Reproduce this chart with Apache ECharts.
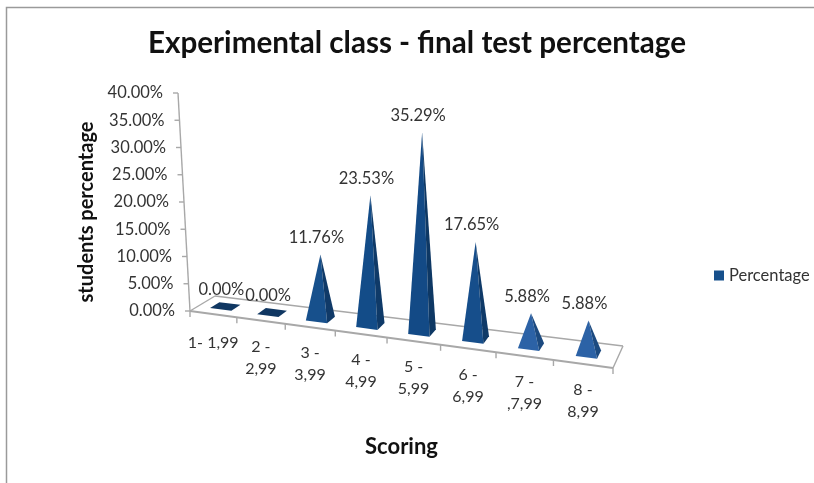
<!DOCTYPE html>
<html><head><meta charset="utf-8">
<style>html,body{margin:0;padding:0;background:#fff}#c{width:814px;height:483px}</style>
<script src="https://cdn.jsdelivr.net/npm/echarts@6/dist/echarts.min.js"></script>
</head><body><div id="c"></div>
<script>
const categories = ['1- 1,99','2 -\n2,99','3 -\n3,99','4 -\n4,99','5 -\n5,99','6 -\n6,99','7 -\n,7,99','8 -\n8,99'];
const percentages = [0, 0, 11.76, 23.53, 35.29, 17.65, 5.88, 5.88];
const yTicks = [0, 5, 10, 15, 20, 25, 30, 35, 40];

const chartTitle = 'Experimental class - final test percentage';
const FONT = 'Lato, "Open Sans", sans-serif';
const GRID = {left: 190, top: 93, width: 423, height: 218};
const FLOOR = [[190,311],[613,368],[623,346],[215,296]];
const AXIS_COLOR = '#a8a8a8', TEXT_COLOR = '#333333';
const WALL_LEAN = 12, PERSPECTIVE = -0.128;

const warp = s => s*(1+PERSPECTIVE)/(1+PERSPECTIVE*s);
const lerp = (a,b,t) => a+(b-a)*t;
const floorPoint = (S,t) => {
  const [F0,F1,B1,B0]=FLOOR;
  const fx=lerp(F0[0],F1[0],S), fy=lerp(F0[1],F1[1],S), bx=lerp(B0[0],B1[0],S), by=lerp(B0[1],B1[1],S);
  return [lerp(fx,bx,t),lerp(fy,by,t)];
};
const toS = px => warp((px-GRID.left)/GRID.width);
const line = (p,q,w) => ({type:'line',shape:{x1:p[0],y1:p[1],x2:q[0],y2:q[1]},style:{stroke:AXIS_COLOR,lineWidth:w||1.4}});

function renderFrame(params, api){
  const kids=[];
  FLOOR.forEach((p,i)=>kids.push(line(p,FLOOR[(i+1)%4], i===0?2:1.4)));
  const bw=api.size([1,0])[0];
  for(let i=0;i<=categories.length;i++){
    const idx=Math.min(i,categories.length-1);
    const px=api.coord([idx,0])[0]+(i-idx-0.5)*bw;
    const p=floorPoint(toS(px),0);
    kids.push(line(p,[p[0],p[1]+6]));
  }
  categories.forEach((c,i)=>{
    const p=floorPoint(toS(api.coord([i,0])[0]),0);
    kids.push({type:'text',style:{text:c,x:p[0],y:p[1]+(i===0?18:15),align:'center',verticalAlign:'top',
      font:'16px '+FONT,fill:TEXT_COLOR,lineHeight:22}});
  });
  const base=api.coord([0,0])[1];
  const wall=v=>{const y=api.coord([0,v])[1];return [GRID.left-WALL_LEAN*(base-y)/GRID.height,y];};
  kids.push(line(wall(0),wall(40)));
  yTicks.forEach(v=>{const p=wall(v);kids.push(line(p,[p[0]-5,p[1]]));});
  return {type:'group',children:kids};
}

const FRONT=['#1a5490','#1a5490','#17508c','#134c88','#134a86','#164e8b','#2c62a6','#2c62a6'];
const SIDE =['#103762','#103762','#103a68','#0f3a68','#0e3864','#0f3a68','#1c4a80','#1c4a80'];
function renderPyramid(params, api){
  const i=api.value(0), v=api.value(1);
  const c=api.coord([i,0]), top=api.coord([i,v]);
  const S=toS(c[0]), ds=0.0255, t0=0.31, t1=0.69;
  const fl=floorPoint(S-ds,t0), fr=floorPoint(S+ds,t0), br=floorPoint(S+ds,t1), bl=floorPoint(S-ds,t1);
  const h=c[1]-top[1], rise=v>0 ? h*(0.94+0.00045*h)+2 : 0;
  const ctr=floorPoint(S,0.5), apex=[ctr[0],ctr[1]-rise];
  const kids=[];
  if(v>0){
    kids.push({type:'polygon',shape:{points:[fl,fr,apex]},style:{fill:FRONT[i]}});
    kids.push({type:'polygon',shape:{points:[fr,br,apex]},style:{fill:SIDE[i]}});
  } else {
    kids.push({type:'polygon',shape:{points:[fl,fr,br,bl]},style:{fill:SIDE[i]}});
  }
  kids.push({type:'text',style:{text:v.toFixed(2)+'%',x:apex[0]-4,y:apex[1]-17,align:'center',verticalAlign:'middle',
    font:'16.5px '+FONT,fill:TEXT_COLOR}});
  return {type:'group',children:kids};
}

const chart=echarts.init(document.getElementById('c'),null,{renderer:'canvas'});
chart.setOption({
  animation:false,
  backgroundColor:'#fff',
  title:{text:chartTitle,left:148,top:28,padding:0,
    textStyle:{fontFamily:FONT,fontWeight:'bold',fontSize:29.6,color:'#111'}},
  legend:{data:['Percentage'],left:714,top:267,icon:'rect',itemWidth:10,itemHeight:10,itemGap:5,padding:0,
    textStyle:{fontFamily:FONT,fontSize:16.5,color:TEXT_COLOR}},
  grid:GRID,
  xAxis:{type:'category',data:categories,name:'Scoring',nameLocation:'middle',nameGap:125,
    nameTextStyle:{fontFamily:FONT,fontWeight:'bold',fontSize:22,color:'#111'},
    axisLine:{show:false},axisTick:{show:false},axisLabel:{show:false},splitLine:{show:false}},
  yAxis:{type:'value',min:0,max:40,interval:5,name:'students percentage',nameLocation:'middle',nameGap:86,nameRotate:90,
    nameTextStyle:{fontFamily:FONT,fontWeight:'bold',fontSize:20,color:'#111',padding:[0,20,0,0]},
    axisLine:{show:false},axisTick:{show:false},splitLine:{show:false},
    axisLabel:{margin:15,fontFamily:FONT,color:TEXT_COLOR,fontSize:16.5,
      formatter:v=>`{t${v}|${v.toFixed(2)}%}`,
      rich:Object.fromEntries(yTicks.map(v=>[`t${v}`,{fontFamily:FONT,fontSize:16.5,color:TEXT_COLOR,padding:[0,v*0.3,0,0]}]))}},
  graphic:[{type:'polyline',silent:true,shape:{points:[[6.5,483],[6.5,7.5],[814,7.5]]},style:{stroke:'#9a9a9a',fill:null,lineWidth:1.5}}],
  series:[
    {type:'custom',name:'frame',silent:true,clip:false,renderItem:renderFrame,data:[[0,0]],encode:{x:0,y:1},z:1},
    {type:'custom',name:'Percentage',clip:false,renderItem:renderPyramid,itemStyle:{color:'#17508c'},
      data:percentages.map((v,i)=>[i,v]),encode:{x:0,y:1},z:2}
  ]
});
</script></body></html>
